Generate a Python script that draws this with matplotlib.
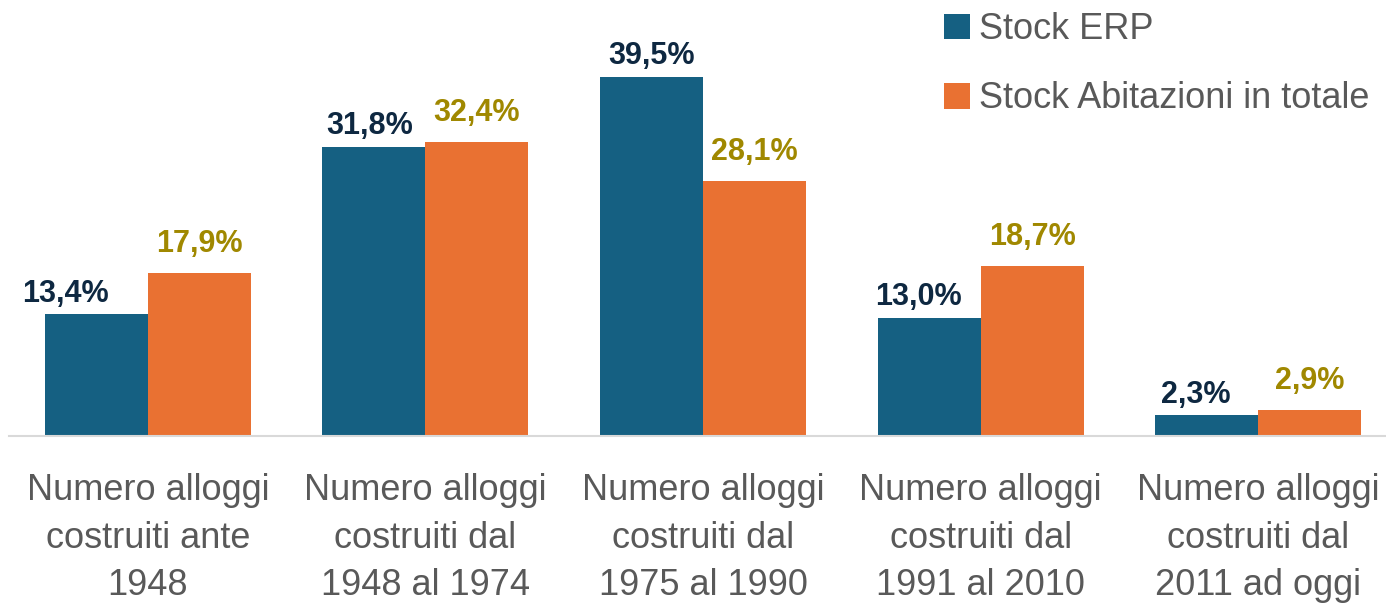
import matplotlib
matplotlib.use("Agg")
import matplotlib.pyplot as plt
import numpy as np

# data
categories = [
    "Numero alloggi\ncostruiti ante\n1948",
    "Numero alloggi\ncostruiti dal\n1948 al 1974",
    "Numero alloggi\ncostruiti dal\n1975 al 1990",
    "Numero alloggi\ncostruiti dal\n1991 al 2010",
    "Numero alloggi\ncostruiti dal\n2011 ad oggi",
]
series_names = ["Stock ERP", "Stock Abitazioni in totale"]
erp_values = [13.4, 31.8, 39.5, 13.0, 2.3]
totale_values = [17.9, 32.4, 28.1, 18.7, 2.9]

BLUE = "#156082"
ORANGE = "#E97132"
BLUE_TXT = "#0E2841"
GOLD_TXT = "#A08800"
GREY_TXT = "#595959"

plt.rcParams["font.family"] = ["Liberation Sans", "DejaVu Sans"]

fig = plt.figure(figsize=(13.86, 6.09), dpi=100)
W, H = 1386.0, 609.0
# axes placed in pixel terms: baseline at y=436, group pitch ~277.5 px
ax = fig.add_axes([9 / W, 173 / H, 1388 / W, 409 / H])

x = np.arange(len(categories))
bw = 0.371
b1 = ax.bar(x - bw / 2, erp_values, bw, color=BLUE, label=series_names[0])
b2 = ax.bar(x + bw / 2, totale_values, bw, color=ORANGE, label=series_names[1])

ax.set_xlim(-0.5, 4.5)
ax.set_ylim(0, 45)

# blue labels were nudged left in the original
blue_shift = [-22, -3, 0, -8, -8]
for rect, v, dx in zip(b1, erp_values, blue_shift):
    ax.annotate(f"{v:.1f}%".replace(".", ","),
                (rect.get_x() + rect.get_width() / 2, rect.get_height()),
                xytext=(dx, 4), textcoords="offset points",
                ha="center", va="bottom", fontsize=22, fontweight="bold",
                color=BLUE_TXT)
for rect, v in zip(b2, totale_values):
    ax.annotate(f"{v:.1f}%".replace(".", ","),
                (rect.get_x() + rect.get_width() / 2, rect.get_height()),
                xytext=(0, 10), textcoords="offset points",
                ha="center", va="bottom", fontsize=22, fontweight="bold",
                color=GOLD_TXT)

for s in ["top", "right", "left"]:
    ax.spines[s].set_visible(False)
ax.spines["bottom"].set_color("#D9D9D9")
ax.spines["bottom"].set_linewidth(1.5)
ax.set_yticks([])
ax.set_xticks(x)
ax.set_xticklabels(categories, fontsize=26, color=GREY_TXT, linespacing=1.45)
ax.tick_params(axis="x", length=0, pad=27)

fig.legend(handles=[b1, b2], loc="upper left",
           bbox_to_anchor=(944 / W, 1 - 12 / H), frameon=False,
           fontsize=26, labelcolor=GREY_TXT, handlelength=0.72,
           handleheight=0.72, handletextpad=0.25, labelspacing=0.95,
           borderpad=0, borderaxespad=0)

fig.savefig("out.png", dpi=100)
